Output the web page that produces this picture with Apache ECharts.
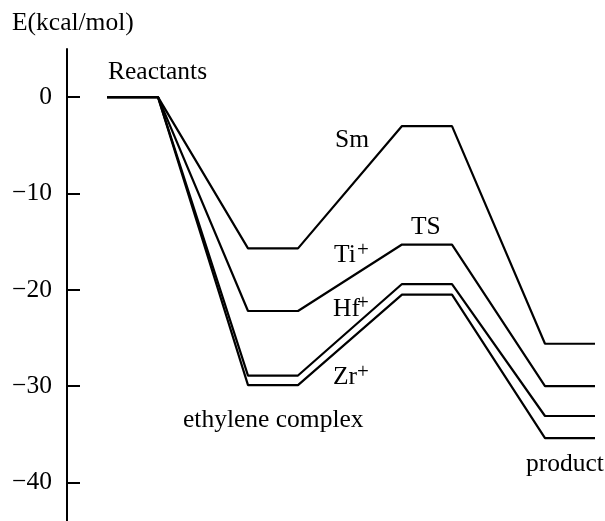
<!DOCTYPE html>
<html>
<head>
<meta charset="utf-8">
<script src="https://cdn.jsdelivr.net/npm/echarts@6/dist/echarts.min.js"></script>
<style>
  html, body { margin: 0; padding: 0; background: #fff; }
  #chart { width: 605px; height: 521px; }
</style>
</head>
<body>
<div id="chart"></div>
<script>
// reaction coordinate of each plateau end: reactants, complex, TS, product
const xStage = [40, 91, 181, 231, 335, 385, 478, 528];
const metals = ['Sm', 'Ti+', 'Hf+', 'Zr+'];
const reactantE = [0, 0, 0, 0];
const complexE = [-15.7, -22.2, -28.9, -29.9];
const tsE = [-3.0, -15.3, -19.4, -20.5];
const productE = [-25.6, -30.0, -33.1, -35.4];
const yTicks = [0, -10, -20, -30, -40];

const font = '"Liberation Serif", "Times New Roman", serif';

function profile(i) {
  const e = [reactantE[i], reactantE[i], complexE[i], complexE[i], tsE[i], tsE[i], productE[i], productE[i]];
  return xStage.map((x, k) => [x, e[k]]);
}

function label(text, x, y, size) {
  return {
    type: 'text',
    x: x,
    y: y,
    style: {
      text: text,
      fill: '#000',
      font: (size || 25.5) + 'px ' + font,
      verticalAlign: 'middle',
    },
  };
}

const chart = echarts.init(document.getElementById('chart'));
chart.setOption({
  animation: false,
  grid: { left: 67, right: 0, top: 49, bottom: 0 },
  xAxis: {
    type: 'value',
    min: 0,
    max: 538,
    show: false,
  },
  yAxis: {
    type: 'value',
    min: -44,
    max: 5,
    axisLine: { show: true, lineStyle: { color: '#000', width: 2 } },
    axisTick: {
      show: true,
      inside: true,
      length: 13,
      customValues: yTicks,
      lineStyle: { color: '#000', width: 2 },
    },
    axisLabel: {
      customValues: yTicks,
      margin: 15,
      color: '#000',
      fontFamily: font,
      fontSize: 25.5,
      formatter: (v) => (v < 0 ? '\u2212' + Math.abs(v) : String(v)),
    },
    splitLine: { show: false },
  },
  series: metals.map((m, i) => ({
    name: m,
    type: 'line',
    data: profile(i),
    symbol: 'none',
    silent: true,
    lineStyle: { color: '#000', width: 2.2 },
  })),
  graphic: [
    label('E(kcal/mol)', 12, 23),
    label('Reactants', 108, 72),
    label('Sm', 335, 140),
    label('TS', 411, 227),
    label('Ti', 334, 255),
    label('+', 357, 250, 21),
    label('Hf', 333, 309),
    label('+', 357, 303, 21),
    label('Zr', 333, 377),
    label('+', 357, 372, 21),
    label('ethylene complex', 183, 420),
    label('product', 526, 464),
  ],
});
</script>
</body>
</html>
